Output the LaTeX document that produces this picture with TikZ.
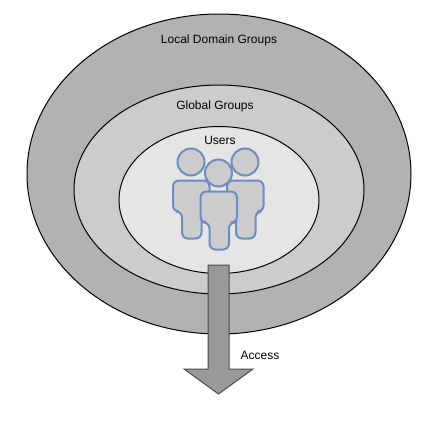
\documentclass[tikz,border=0pt]{standalone}
\usepackage{fontspec}
\setmainfont{Liberation Sans}
\usetikzlibrary{shapes.geometric}

\begin{document}
\begin{tikzpicture}[
  x=1pt, y=-1pt,
  font=\fontsize{12}{14}\selectfont,
  ring/.style={draw, ellipse, inner sep=0pt, line width=1pt},
  label text/.style={inner sep=0pt, anchor=center},
  access arrow/.style={draw=black!70, fill=black!40, line width=1pt, line join=miter},
  person part/.style={draw=personline, fill=black!20, line width=2pt},
  person/.pic={
    \draw[person part] (0,0) circle[radius=13.5];
    \draw[person part, rounded corners=6pt]
      (-9,49.5) -- (-18,49.5) -- (-18,18.5) -- (18.5,18.5) -- (18.5,49.5) -- (10.5,49.5) -- (10.5,76.5) -- (-9,76.5) -- cycle;
  }
]
\definecolor{personline}{HTML}{6C8EBF}
\useasboundingbox (0,0) rectangle (442,424);

\node[ring, fill=black!30, minimum width=384pt, minimum height=320pt] (outer) at (219,174) {};
\node[ring, fill=black!20, minimum width=290pt, minimum height=209pt] (middle) at (219,189.5) {};
\node[ring, fill=black!10, minimum width=200pt, minimum height=147pt] (inner) at (219,200) {};

\node[label text] (localgroups) at (219,40) {Local Domain Groups};
\node[label text] (globalgroups) at (215,106) {Global Groups};
\node[label text] (users) at (220,140) {Users};

\pic (leftuser) at (191,162) {person};
\pic (rightuser) at (245,162) {person};
\pic (centeruser) at (218.5,173) {person};

\draw[access arrow] (208,265) -- (229,265) -- (229,369) -- (253,369) -- (218.5,394)
  -- (184,369) -- (208,369) -- cycle;

\node[label text] (access) at (260,355) {Access};

\end{tikzpicture}
\end{document}
